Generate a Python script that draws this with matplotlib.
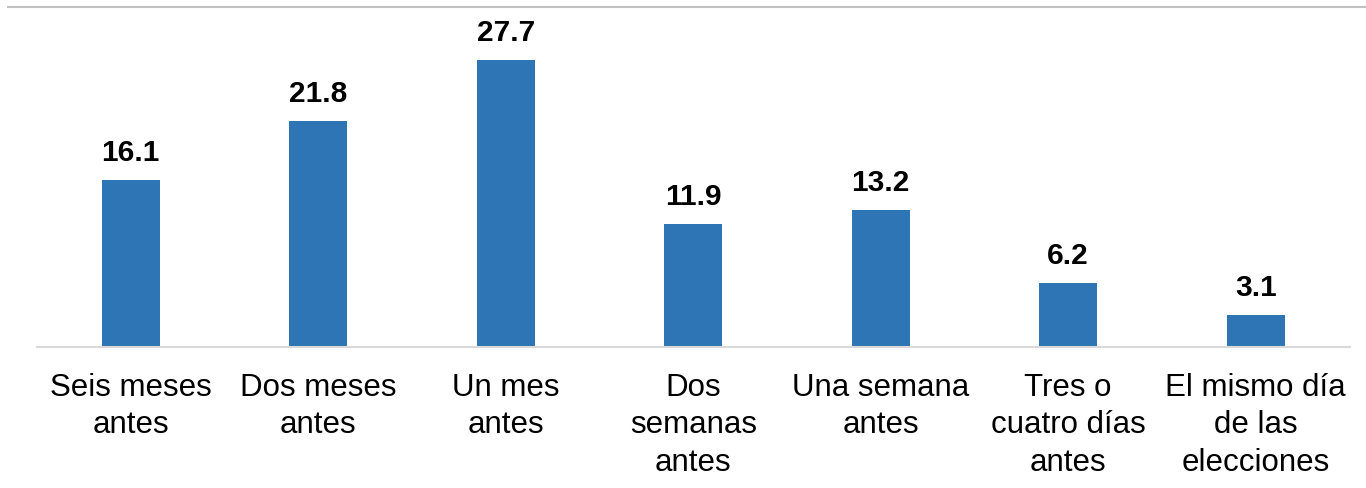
import numpy as np
import matplotlib
matplotlib.use("Agg")
import matplotlib.pyplot as plt
from matplotlib.lines import Line2D

plt.rcParams['font.family'] = ['Liberation Sans', 'DejaVu Sans']

categories = ['Seis meses\nantes', 'Dos meses\nantes', 'Un mes\nantes',
              'Dos\nsemanas\nantes', 'Una semana\nantes', 'Tres o\ncuatro días\nantes',
              'El mismo día\nde las\nelecciones']
values = [16.1, 21.8, 27.7, 11.9, 13.2, 6.2, 3.1]

BAR_COLOR = '#2E75B6'

fig = plt.figure(figsize=(13.66, 4.89), dpi=100)
ax = fig.add_axes([37/1366, 141/489, 1312.5/1366, 340/489])

x = np.arange(len(values))
bars = ax.bar(x, values, width=0.31, color=BAR_COLOR, zorder=2)

for xi, v in zip(x, values):
    ax.annotate(f'{v:.1f}', (xi, v), xytext=(0, 10), textcoords='offset points',
                ha='center', va='bottom', fontsize=21.5, fontweight='bold', color='black')

ax.set_xlim(-0.5, len(values) - 0.5)
ax.set_ylim(0, 32.8)
ax.set_xticks(x)
ax.set_xticklabels(categories, fontsize=22.5, linespacing=1.32)
ax.tick_params(axis='x', length=0, pad=18)
ax.set_yticks([])

for s in ['top', 'left', 'right']:
    ax.spines[s].set_visible(False)
ax.spines['bottom'].set_color('#D9D9D9')
ax.spines['bottom'].set_linewidth(1.5)

# thin border line at the top of the picture
fig.add_artist(Line2D([8/1366, 1.0], [1 - 8/489, 1 - 8/489], color='#BFBFBF', lw=1.5,
                      transform=fig.transFigure))

fig.savefig('out.png', dpi=100)
